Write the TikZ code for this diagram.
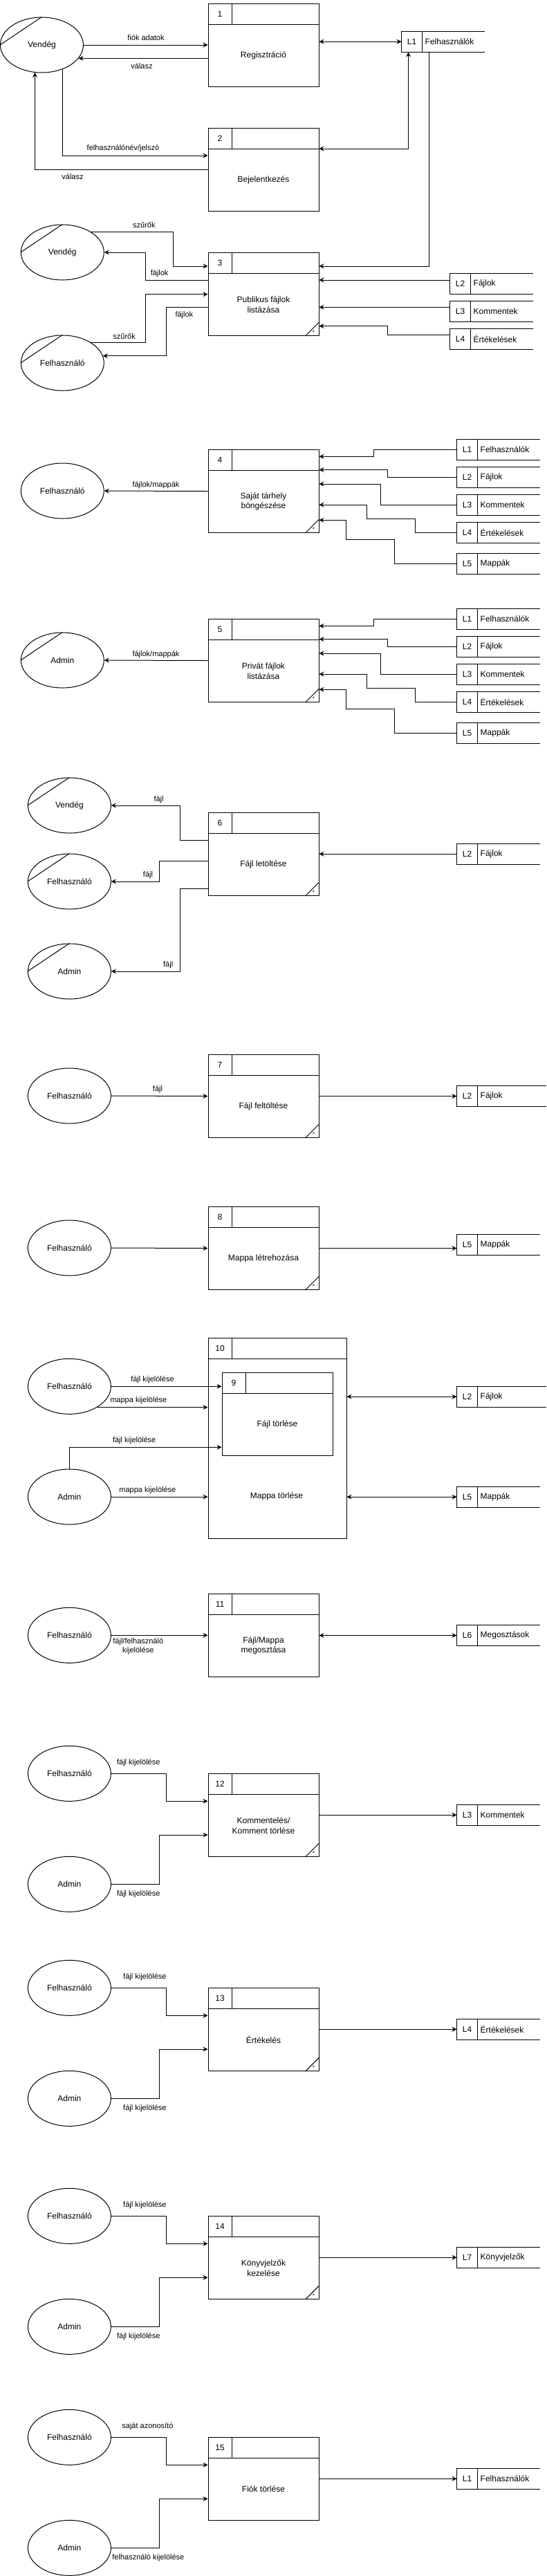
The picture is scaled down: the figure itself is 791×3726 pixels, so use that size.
\documentclass[tikz,border=0pt]{standalone}
\usepackage{fontspec}
\setmainfont{Liberation Sans}
\usetikzlibrary{shapes.geometric,arrows.meta,calc}

\tikzset{
  wire/.style={draw=black, line width=1pt},
  flow/.style={wire, -{Stealth[length=7pt,width=7pt,inset=2.5pt]}},
  biflow/.style={wire, {Stealth[length=7pt,width=7pt,inset=2.5pt]}-{Stealth[length=7pt,width=7pt,inset=2.5pt]}},
  procbox/.style={rectangle, draw=black, line width=1pt, inner sep=0pt, fill=white},
  storebox/.style={rectangle, inner sep=0pt, minimum height=30pt},
  txt/.style={inner sep=0pt, font=\fontsize{12}{14.4}\selectfont, text=black},
  lbl/.style={inner sep=0pt, font=\fontsize{11}{13.2}\selectfont, text=black},
  startxt/.style={inner sep=0pt, font=\fontsize{8}{9}\selectfont, text=black},
  ent/.style={ellipse, draw=black, line width=1pt, minimum width=120pt, minimum height=80pt, inner sep=0pt, font=\fontsize{12}{14.4}\selectfont},
}

% name, x, y (top-left), width, height, number, label
\newcommand\dfdproc[7]{%
  \node[procbox, minimum width=#4, minimum height=#5, anchor=north west] (#1) at (#2,#3) {};
  \draw[wire] ($(#1.north west)+(0,30)$) -- ($(#1.north east)+(0,30)$);
  \draw[wire] ($(#1.north west)+(35,0)$) -- ($(#1.north west)+(35,30)$);
  \node[txt] (#1-n) at ($(#1.north west)+(17.5,15)$) {#6};
  \node[txt, align=center] (#1-t) at ($(#1.center)+(0,15)$) {#7};
}
% name, x, y (top-left), width, id, label
\newcommand\dfdstore[6]{%
  \node[storebox, minimum width=#4, anchor=north west] (#1) at (#2,#3) {};
  \draw[wire] (#1.north east) -- (#1.north west) -- (#1.south west) -- (#1.south east);
  \draw[wire] ($(#1.north west)+(30,0)$) -- ($(#1.south west)+(30,0)$);
  \node[txt] (#1-i) at ($(#1.west)+(15,0)$) {#5};
  \node[txt, anchor=west] (#1-l) at ($(#1.west)+(34,0)$) {#6};
}
\newcommand\dfdstar[1]{%
  \draw[wire] ($(#1.south east)+(-20,0)$) -- ($(#1.south east)+(0,-20)$);
  \node[startxt] (#1-s) at ($(#1.south east)+(-8,-5)$) {*};
}
\newcommand\dfdslash[1]{\draw[wire] (#1.west) -- (#1.north);}

\begin{document}
\begin{tikzpicture}[x=1pt, y=-1pt]
\useasboundingbox (0,0) rectangle (791,3726);

% ---------- 1, 2 ----------
\node[ent] (v1) at (60.5,65) {Vendég};
\dfdslash{v1}
\dfdproc{p1}{300.5}{5}{160}{120}{1}{Regisztráció}
\dfdproc{p2}{300.5}{185}{160}{120}{2}{Bejelentkezés}
\dfdstore{s1}{580.5}{45}{120}{L1}{Felhasználók}
\draw[flow] (v1.east) -- (p1.west |- v1.east);
\node[lbl] at (211,55) {fiók adatok};
\draw[flow] (p1.west |- v1.-20) -- (v1.-20);
\node[lbl] at (205,96) {válasz};
\draw[biflow] (p1.east |- s1.west) -- (s1.west);
\draw[flow] (v1.-50) |- (p2.west |- 0,225);
\node[lbl] at (178,215) {felhasználónév/jelszó};
\draw[flow] (p2.west) -| (v1.-104);
\node[lbl] at (105,256) {válasz};
\draw[biflow] ($(s1.south west)+(10,0)$) |- (p2.east |- 0,215);

% ---------- 3 ----------
\node[ent] (v2) at (90.3,365) {Vendég};
\dfdslash{v2}
\node[ent] (f3) at (90.3,525) {Felhasználó};
\dfdslash{f3}
\dfdproc{p3}{300.5}{365}{160}{120}{3}{Publikus fájlok\\listázása}
\dfdstar{p3}
\dfdstore{s3a}{650.5}{395}{120}{L2}{Fájlok}
\dfdstore{s3b}{650.5}{435}{120}{L3}{Kommentek}
\dfdstore{s3c}{650.5}{475}{120}{L4}{Értékelések}
\draw[flow] ($(s1.south west)+(39.5,0)$) |- (p3.east |- 0,385);
\draw[flow] (v2.36) -| (250.5,385) -- (p3.west |- 0,385);
\node[lbl] at (208.4,326) {szűrők};
\draw[flow] (p3.west |- 0,405) -- (210.4,405) |- (v2.east);
\node[lbl] at (230.6,396) {fájlok};
\draw[flow] (f3.36) -| (210.4,425.7) -- (p3.west |- 0,425.7);
\node[lbl] at (179.6,486) {szűrők};
\draw[flow] (p3.west |- 0,444.3) -- (240.7,444.3) |- (f3.10);
\node[lbl] at (266.4,456) {fájlok};
\draw[flow] (s3a.west |- 0,405) -- (p3.east |- 0,405);
\draw[flow] (s3b.west |- 0,444.3) -- (p3.east |- 0,444.3);
\draw[flow] (s3c.west |- 0,484.3) -| (560,471.7) -- (p3.east |- 0,471.7);

% ---------- 4 ----------
\node[ent] (f4) at (90.3,710) {Felhasználó};
\dfdproc{p4}{300.5}{650}{160}{120}{4}{Saját tárhely\\böngészése}
\dfdstar{p4}
\dfdstore{s4a}{660.5}{635}{120}{L1}{Felhasználók}
\dfdstore{s4b}{660.5}{675}{120}{L2}{Fájlok}
\dfdstore{s4c}{660.5}{715}{120}{L3}{Kommentek}
\dfdstore{s4d}{660.5}{755}{120}{L4}{Értékelések}
\dfdstore{s4e}{660.5}{800}{120}{L5}{Mappák}
\draw[flow] (p4.west) -- (f4.east);
\node[lbl] at (225.5,701.7) {fájlok/mappák};
\draw[flow] (s4a.west) -| (540.4,660.3) -- (p4.east |- 0,660.3);
\draw[flow] (s4b.west) -| (560,679.5) -- (p4.east |- 0,679.5);
\draw[flow] (s4c.west) -| (550,700) -- (p4.east |- 0,700);
\draw[flow] (s4d.west) -| (600.4,750) -| (530.3,730) -- (p4.east |- 0,730);
\draw[flow] (s4e.west) -| (570.6,780.3) -| (500.5,752.3) -- (p4.east |- 0,752.3);

% ---------- 5 ----------
\node[ent] (a5) at (90.3,955) {Admin};
\dfdslash{a5}
\dfdproc{p5}{300.5}{895}{160}{120}{5}{Privát fájlok\\listázása}
\dfdstar{p5}
\dfdstore{s5a}{660.5}{880}{120}{L1}{Felhasználók}
\dfdstore{s5b}{660.5}{920}{120}{L2}{Fájlok}
\dfdstore{s5c}{660.5}{960}{120}{L3}{Kommentek}
\dfdstore{s5d}{660.5}{1000}{120}{L4}{Értékelések}
\dfdstore{s5e}{660.5}{1045}{120}{L5}{Mappák}
\draw[flow] (p5.west) -- (a5.east);
\node[lbl] at (225.5,946.7) {fájlok/mappák};
\draw[flow] (s5a.west) -| (540.4,905.3) -- (p5.east |- 0,905.3);
\draw[flow] (s5b.west) -| (560,924.5) -- (p5.east |- 0,924.5);
\draw[flow] (s5c.west) -| (550,945) -- (p5.east |- 0,945);
\draw[flow] (s5d.west) -| (600.4,995) -| (530.3,975) -- (p5.east |- 0,975);
\draw[flow] (s5e.west) -| (570.6,1025.3) -| (500.5,997.3) -- (p5.east |- 0,997.3);

% ---------- 6 ----------
\node[ent] (v6) at (100.4,1165) {Vendég};
\dfdslash{v6}
\node[ent] (f6) at (100.4,1275) {Felhasználó};
\dfdslash{f6}
\node[ent] (a6) at (100.4,1405) {Admin};
\dfdslash{a6}
\dfdproc{p6}{300.5}{1175}{160}{120}{6}{Fájl letöltése}
\dfdstar{p6}
\dfdstore{s6}{660.5}{1220}{120}{L2}{Fájlok}
\draw[flow] (p6.west |- 0,1215) -- (260.3,1215) |- (v6.east);
\node[lbl] at (229.6,1156.7) {fájl};
\draw[flow] (p6.west |- 0,1245.3) -- (230.6,1245.3) |- (f6.east);
\node[lbl] at (214,1266) {fájl};
\draw[flow] (p6.west |- 0,1285.3) -- (260.3,1285.3) |- (a6.east);
\node[lbl] at (243.2,1396) {fájl};
\draw[flow] (s6.west) -- (p6.east |- s6.west);

% ---------- 7 ----------
\node[ent] (f7) at (100.4,1585) {Felhasználó};
\dfdproc{p7}{300.5}{1525}{160}{120}{7}{Fájl feltöltése}
\dfdstar{p7}
\dfdstore{s7}{660.5}{1570}{129}{L2}{Fájlok}
\draw[flow] (f7.east) -- (p7.west);
\node[lbl] at (228,1576) {fájl};
\draw[flow] (p7.east) -- (s7.west |- p7.east);

% ---------- 8 ----------
\node[ent] (f8) at (100.4,1805) {Felhasználó};
\dfdproc{p8}{300.5}{1745}{160}{120}{8}{Mappa létrehozása}
\dfdstar{p8}
\dfdstore{s8}{660.5}{1785}{120}{L5}{Mappák}
\draw[flow] (f8.east) -- (p8.west);
\draw[flow] (p8.east) -- (s8.west |- p8.east);

% ---------- 9, 10 ----------
\node[ent] (f10) at (100.4,2005.3) {Felhasználó};
\node[ent] (a10) at (100.4,2165) {Admin};
\dfdproc{p10}{300.5}{1935}{200}{290}{10}{}
\node[txt] (p10-m) at (400,2164) {Mappa törlése};
\dfdproc{p9}{320.5}{1985}{160}{120}{9}{Fájl törlése}
\dfdstore{s10a}{660.5}{2005}{129}{L2}{Fájlok}
\dfdstore{s10b}{660.5}{2150}{120}{L5}{Mappák}
\draw[flow] (f10.east) -- (p9.west |- f10.east);
\node[lbl] at (220.5,1996) {fájl kijelölése};
\draw[flow] (f10.-37) -- (p10.west |- f10.-37);
\node[lbl] at (200.3,2026) {mappa kijelölése};
\draw[flow] (a10.north) |- (p9.west |- 0,2093.3);
\node[lbl] at (194.2,2084) {fájl kijelölése};
\draw[flow] (a10.east) -- (p10.west |- a10.east);
\node[lbl] at (213.4,2156) {mappa kijelölése};
\draw[biflow] (p10.east |- s10a.west) -- (s10a.west);
\draw[biflow] (p10.east |- s10b.west) -- (s10b.west);

% ---------- 11 ----------
\node[ent] (f11) at (100.4,2365.3) {Felhasználó};
\dfdproc{p11}{300.5}{2305}{160}{120}{11}{Fájl/Mappa\\megosztása}
\dfdstore{s11}{660.5}{2350}{120}{L6}{Megosztások}
\draw[flow] (f11.east) -- (p11.west |- f11.east);
\node[lbl, align=center] at (199.8,2380.8) {fájl/felhasználó\\kijelölése};
\draw[biflow] (p11.east) -- (s11.west |- p11.east);

% ---------- 12 ----------
\node[ent] (f12) at (100.4,2565.3) {Felhasználó};
\node[ent] (a12) at (100.4,2725.3) {Admin};
\dfdproc{p12}{300.5}{2565}{160}{120}{12}{Kommentelés/\\Komment törlése}
\dfdstar{p12}
\dfdstore{s12}{660.5}{2610}{120}{L3}{Kommentek}
\draw[flow] (f12.east) -| (240.7,2605.3) -- (p12.west |- 0,2605.3);
\node[lbl] at (200.3,2550) {fájl kijelölése};
\draw[flow] (a12.east) -| (230.6,2654) -- (p12.west |- 0,2654);
\node[lbl] at (200.3,2739.7) {fájl kijelölése};
\draw[flow] (p12.east |- s12.west) -- (s12.west);

% ---------- 13 ----------
\node[ent] (f13) at (100.4,2875.3) {Felhasználó};
\node[ent] (a13) at (100.4,3035.3) {Admin};
\dfdproc{p13}{300.5}{2875}{160}{120}{13}{Értékelés}
\dfdstar{p13}
\dfdstore{s13}{660.5}{2920}{120}{L4}{Értékelések}
\draw[flow] (f13.east) -| (240.7,2915.3) -- (p13.west |- 0,2915.3);
\node[lbl] at (209.4,2860) {fájl kijelölése};
\draw[flow] (a13.east) -| (230.6,2964) -- (p13.west |- 0,2964);
\node[lbl] at (209.4,3049.7) {fájl kijelölése};
\draw[flow] (p13.east |- s13.west) -- (s13.west);

% ---------- 14 ----------
\node[ent] (f14) at (100.4,3205.3) {Felhasználó};
\node[ent] (a14) at (100.4,3365.3) {Admin};
\dfdproc{p14}{300.5}{3205}{160}{120}{14}{Könyvjelzők\\kezelése}
\dfdstar{p14}
\dfdstore{s14}{660.5}{3250}{120}{L7}{Könyvjelzők}
\draw[flow] (f14.east) -| (240.7,3245.3) -- (p14.west |- 0,3245.3);
\node[lbl] at (209.4,3190) {fájl kijelölése};
\draw[flow] (a14.east) -| (230.6,3294.3) -- (p14.west |- 0,3294.3);
\node[lbl] at (200.3,3379.3) {fájl kijelölése};
\draw[flow] (p14.east |- s14.west) -- (s14.west);

% ---------- 15 ----------
\node[ent] (f15) at (100.4,3525.3) {Felhasználó};
\node[ent] (a15) at (100.4,3685.3) {Admin};
\dfdproc{p15}{300.5}{3525}{160}{120}{15}{Fiók törlése}
\dfdstore{s15}{660.5}{3570}{120}{L1}{Felhasználók}
\draw[flow] (f15.east) -| (240.7,3565.3) -- (p15.west |- 0,3565.3);
\node[lbl] at (213.4,3510) {saját azonosító};
\draw[flow] (a15.east) -| (230.6,3614.3) -- (p15.west |- 0,3614.3);
\node[lbl] at (214.4,3699.7) {felhasználó kijelölése};
\draw[flow] (p15.east |- s15.west) -- (s15.west);

\end{tikzpicture}
\end{document}
